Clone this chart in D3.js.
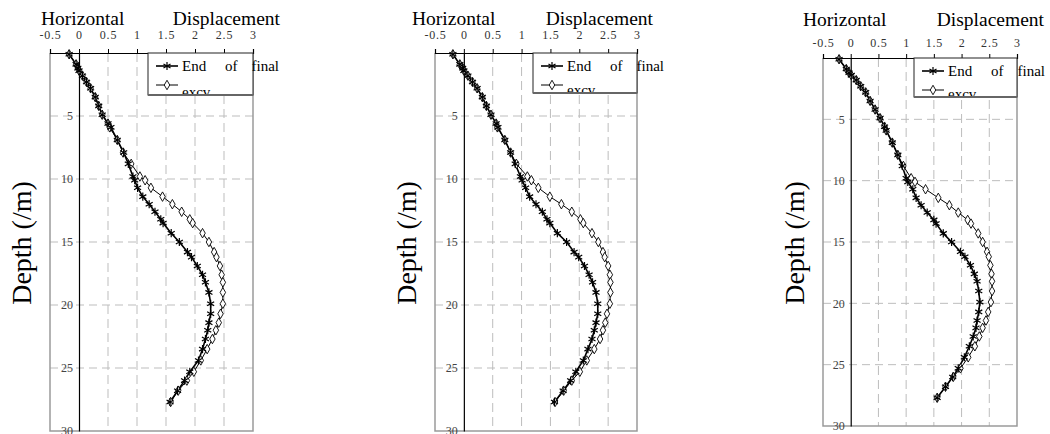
<!DOCTYPE html>
<html>
<head>
<meta charset="utf-8">
<script src="https://cdn.jsdelivr.net/npm/d3@7"></script>
<style>
  body { margin: 0; background: #fff; }
  svg { display: block; }
</style>
</head>
<body>
<svg width="1050" height="434"></svg>
<script>
// depth of each measuring point (m)
var depths = [0.1, 0.9, 1.2, 1.4, 1.8, 2.3, 2.8, 3.5, 4.2, 4.9, 5.6, 5.9, 6.9, 7.9, 8.8,
  9.8, 10.1, 10.7, 11.4, 12.0, 12.6, 13.2, 13.5, 14.3, 15.0, 15.8, 16.2, 16.9, 17.6, 18.2,
  19.0, 19.9, 20.7, 21.4, 22.0, 22.7, 23.5, 24.4, 25.3, 26.0, 26.8, 27.7];

// horizontal displacement, one pair of series per inclinometer
var p1End  = [-0.17,-0.05,-0.02,0.0,0.06, 0.13,0.20,0.28,0.34,0.40, 0.50,0.55,0.66,0.77,0.85,
  0.93,0.96,1.01,1.10,1.21, 1.31,1.41,1.45,1.59,1.73, 1.87,1.94,2.04,2.13,2.18,
  2.24,2.27,2.27,2.24,2.22, 2.18,2.13,2.06,1.91,1.82, 1.70,1.57];
var p1Excv = [-0.17,-0.05,-0.02,0.0,0.06, 0.13,0.20,0.28,0.34,0.40, 0.50,0.53,0.66,0.76,0.90,
  1.05,1.14,1.24,1.44,1.61, 1.77,1.91,1.96,2.13,2.24, 2.33,2.37,2.43,2.46,2.48,
  2.48,2.48,2.44,2.41,2.36, 2.30,2.21,2.10,1.98,1.86, 1.71,1.58];
var p2End  = [-0.19,-0.07,-0.02,0.0,0.07, 0.15,0.23,0.32,0.39,0.47, 0.56,0.59,0.71,0.81,0.89,
  0.98,1.01,1.07,1.14,1.25, 1.36,1.44,1.49,1.62,1.78, 1.91,1.99,2.09,2.17,2.23,
  2.29,2.32,2.32,2.29,2.26, 2.22,2.15,2.07,1.94,1.85, 1.72,1.57];
var p2Excv = [-0.19,-0.07,-0.02,0.0,0.07, 0.15,0.23,0.32,0.39,0.47, 0.56,0.58,0.71,0.81,0.91,
  1.10,1.17,1.29,1.49,1.69, 1.87,2.02,2.07,2.22,2.33, 2.41,2.44,2.50,2.53,2.54,
  2.54,2.53,2.48,2.45,2.41, 2.36,2.26,2.13,2.01,1.87, 1.73,1.58];
var p3End  = [-0.21,-0.08,-0.03,0.01,0.10, 0.18,0.27,0.35,0.44,0.53, 0.61,0.64,0.75,0.85,0.93,
  1.00,1.03,1.12,1.18,1.27, 1.38,1.50,1.54,1.67,1.82, 1.98,2.06,2.16,2.23,2.28,
  2.31,2.33,2.31,2.28,2.26, 2.21,2.14,2.05,1.94,1.84, 1.71,1.56];
var p3Excv = [-0.21,-0.08,-0.03,0.01,0.10, 0.18,0.27,0.35,0.44,0.53, 0.61,0.64,0.75,0.85,0.95,
  1.09,1.16,1.35,1.58,1.78, 1.94,2.11,2.17,2.30,2.38, 2.46,2.49,2.52,2.54,2.55,
  2.55,2.53,2.48,2.44,2.38, 2.32,2.24,2.12,1.98,1.85, 1.71,1.56];

var xTicks = [-0.5, 0, 0.5, 1, 1.5, 2, 2.5, 3];
var xTickLabels = ["-0.5", "0", "0.5", "1", "1.5", "2", "2.5", "3"];
var yTicks = [5, 10, 15, 20, 25, 30];
var xGrid = [0.5, 1, 1.5, 2, 2.5];
var yGrid = [5, 10, 15, 20, 25];

var titleWords = ["Horizontal", "Displacement"];
var yTitle = "Depth (/m)";
var legendWords = ["End", "of", "final"];
var legendSecond = "excv";

// where each of the three small charts sits on the page
var panels = [
  {end: p1End, excv: p1Excv, x0: 50,  x1: 253,  y0: 53, y1: 431, tL: 41,  tR: 280,  tY: 25, tickY: 39, dX: 31,  legX: 148, legY1: 95},
  {end: p2End, excv: p2Excv, x0: 435, x1: 637,  y0: 53, y1: 431, tL: 412, tR: 653,  tY: 25, tickY: 39, dX: 416, legX: 533, legY1: 93},
  {end: p3End, excv: p3Excv, x0: 823, x1: 1017, y0: 58, y1: 426, tL: 803, tR: 1044, tY: 26, tickY: 47, dX: 804, legX: 914, legY1: 97}
];

var svg = d3.select("svg");
var serif = "'Liberation Serif', 'Times New Roman', serif";

var asterisk = d3.symbol().type(d3.symbolAsterisk).size(46),
    diamond = d3.symbol().type(d3.symbolDiamond).size(26);

panels.forEach(function(p, i) {
  var x = d3.scaleLinear().domain([-0.5, 3]).range([p.x0, p.x1]);
  var y = d3.scaleLinear().domain([0, 30]).range([p.y0, p.y1]);
  var g = svg.append("g").attr("class", "panel panel-" + i);

  // Gridlines
  g.append("g").selectAll("line").data(yGrid).enter().append("line")
    .attr("x1", p.x0).attr("x2", p.x1)
    .attr("y1", d => y(d)).attr("y2", d => y(d))
    .attr("stroke", "#bdbdbd").attr("stroke-dasharray", "8,5");
  g.append("g").selectAll("line").data(xGrid).enter().append("line")
    .attr("x1", d => x(d)).attr("x2", d => x(d))
    .attr("y1", p.y0).attr("y2", p.y1)
    .attr("stroke", "#bdbdbd").attr("stroke-dasharray", "9,5");

  // gray frame on left, right and bottom
  g.append("path")
    .attr("d", "M" + p.x0 + "," + p.y0 + "V" + p.y1 + "H" + p.x1 + "V" + p.y0)
    .attr("fill", "none").attr("stroke", "#9a9a9a").attr("stroke-width", 1.5);

  // x axis on top
  var xAxis = g.append("g").attr("transform", "translate(0," + p.y0 + ")")
    .call(d3.axisTop(x).tickValues(xTicks).tickSize(4).tickSizeOuter(4)
      .tickPadding(p.y0 - 4 - p.tickY)
      .tickFormat((d, k) => xTickLabels[k]));
  xAxis.select(".domain").attr("stroke", "#000").attr("stroke-width", 1.2);
  xAxis.selectAll("text").attr("font-family", serif).attr("font-size", 12)
    .attr("fill", "#333").attr("letter-spacing", "0.8px");

  // y axis through zero
  var yAxis = g.append("g").attr("transform", "translate(" + x(0) + ",0)")
    .call(d3.axisLeft(y).tickValues(yTicks).tickSize(0).tickSizeOuter(0).tickPadding(6));
  yAxis.select(".domain").attr("stroke", "#000").attr("stroke-width", 1.2);
  yAxis.selectAll("text").attr("font-family", serif).attr("font-size", 12).attr("fill", "#444");

  // Series lines and markers
  var line = d3.line().x(d => x(d[1])).y(d => y(d[0]));
  var excvPts = depths.map((d, k) => [d, p.excv[k]]),
      endPts = depths.map((d, k) => [d, p.end[k]]);

  g.append("path").datum(excvPts).attr("d", line)
    .attr("fill", "none").attr("stroke", "#000").attr("stroke-width", 1);
  g.append("path").datum(endPts).attr("d", line)
    .attr("fill", "none").attr("stroke", "#000").attr("stroke-width", 1.6);

  g.append("g").selectAll("path").data(excvPts).enter().append("path")
    .attr("d", diamond)
    .attr("transform", d => "translate(" + x(d[1]) + "," + y(d[0]) + ")")
    .attr("fill", "#fff").attr("stroke", "#000").attr("stroke-width", 0.9);
  g.append("g").selectAll("path").data(endPts).enter().append("path")
    .attr("d", asterisk)
    .attr("transform", d => "translate(" + x(d[1]) + "," + y(d[0]) + ")")
    .attr("fill", "none").attr("stroke", "#000").attr("stroke-width", 1.2);

  // Legend box (text of the second row is cut by the box)
  var lx = p.legX, ly = p.y0;
  g.append("rect").attr("x", lx).attr("y", ly).attr("width", p.x1 - lx).attr("height", p.legY1 - ly)
    .attr("fill", "#fff").attr("stroke", "#222").attr("stroke-width", 1);
  g.append("line").attr("x1", lx).attr("x2", p.x1).attr("y1", p.legY1).attr("y2", p.legY1)
    .attr("stroke", "#666").attr("stroke-width", 2);

  var clipId = "legclip" + i;
  svg.append("clipPath").attr("id", clipId).append("rect")
    .attr("x", lx).attr("y", ly).attr("width", 200).attr("height", p.legY1 - ly - 1);
  var leg = g.append("g").attr("clip-path", "url(#" + clipId + ")");

  var r1 = ly + 13, r2 = ly + 32;
  leg.append("line").attr("x1", lx + 8).attr("x2", lx + 30).attr("y1", r1).attr("y2", r1)
    .attr("stroke", "#000").attr("stroke-width", 1.6);
  leg.append("path").attr("d", asterisk).attr("transform", "translate(" + (lx + 19) + "," + r1 + ")")
    .attr("fill", "none").attr("stroke", "#000").attr("stroke-width", 1.2);
  leg.append("line").attr("x1", lx + 8).attr("x2", lx + 30).attr("y1", r2).attr("y2", r2)
    .attr("stroke", "#000").attr("stroke-width", 1);
  leg.append("path").attr("d", diamond).attr("transform", "translate(" + (lx + 19) + "," + r2 + ")")
    .attr("fill", "#fff").attr("stroke", "#000").attr("stroke-width", 0.9);

  var legPos = [lx + 34, lx + 77, lx + 131];
  legendWords.forEach(function(w, k) {
    leg.append("text").attr("x", legPos[k]).attr("y", r1 + 5)
      .attr("text-anchor", k === 2 ? "end" : "start")
      .attr("font-family", serif).attr("font-size", 15).text(w);
  });
  leg.append("text").attr("x", lx + 34).attr("y", p.legY1 + 2)
    .attr("font-family", serif).attr("font-size", 15).text(legendSecond);

  // Titles
  g.append("text").attr("x", p.tL).attr("y", p.tY)
    .attr("font-family", serif).attr("font-size", 19.5).text(titleWords[0]);
  g.append("text").attr("x", p.tR).attr("y", p.tY).attr("text-anchor", "end")
    .attr("font-family", serif).attr("font-size", 19.5).text(titleWords[1]);

  g.append("text").attr("transform", "translate(" + p.dX + ",243) rotate(-90)")
    .attr("text-anchor", "middle")
    .attr("font-family", serif).attr("font-size", 28).text(yTitle);
});
</script>
</body>
</html>
